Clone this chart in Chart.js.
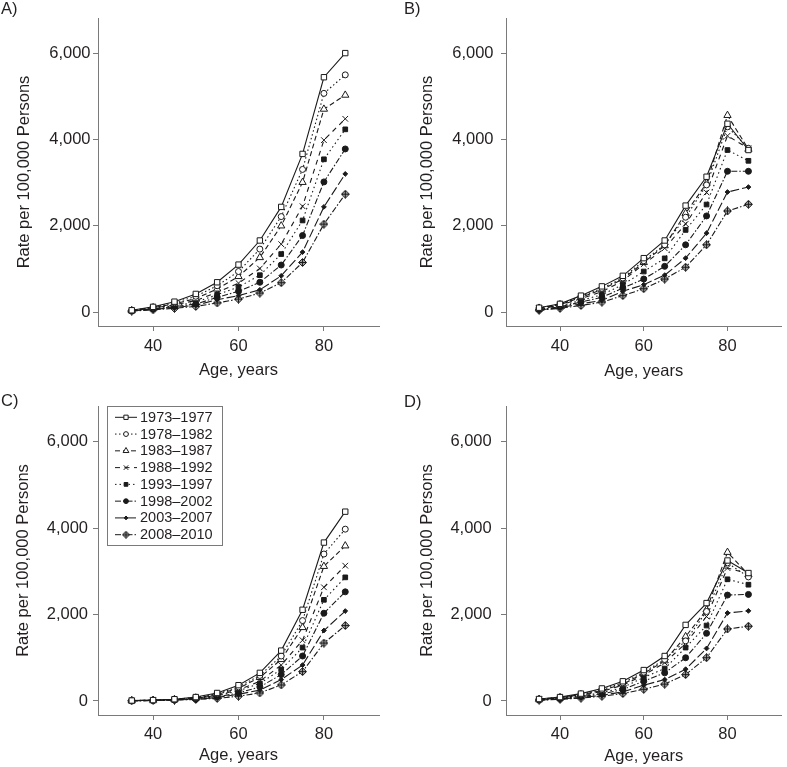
<!DOCTYPE html>
<html><head><meta charset="utf-8">
<script src="https://cdn.jsdelivr.net/npm/chart.js@4/dist/chart.umd.min.js"></script>
<style>
html,body{margin:0;padding:0;background:#fff;}
#wrap{position:relative;width:787px;height:767px;overflow:hidden;background:#fff;}
canvas{position:absolute;}
.lbl{position:absolute;font:16.5px "Liberation Sans",Arial,sans-serif;color:#231f20;line-height:16px;white-space:nowrap;}
</style></head><body>
<div id="wrap">
<canvas id="cA" width="393" height="383" style="left:0;top:0"></canvas>
<canvas id="cB" width="394" height="383" style="left:393px;top:0"></canvas>
<canvas id="cC" width="393" height="384" style="left:0;top:383px"></canvas>
<canvas id="cD" width="394" height="384" style="left:393px;top:383px"></canvas>
<div class="lbl" style="left:1px;top:0px">A)</div>
<div class="lbl" style="left:404px;top:0px">B)</div>
<div class="lbl" style="left:1px;top:392px">C)</div>
<div class="lbl" style="left:404px;top:393px">D)</div>
</div>
<script>
// ---- data ----
const ages = [35, 40, 45, 50, 55, 60, 65, 70, 75, 80, 85];
const periods = ['1973\u20131977','1978\u20131982','1983\u20131987','1988\u20131992','1993\u20131997','1998\u20132002','2003\u20132007','2008\u20132010'];
const xTickValues = [40, 60, 80];
const yTickValues = [0, 2000, 4000, 6000];

// Panel A
const A_1973 = [40, 120, 240, 420, 690, 1100, 1660, 2440, 3670, 5450, 6010];
const A_1978 = [38, 110, 215, 365, 610, 940, 1460, 2215, 3310, 5075, 5505];
const A_1983 = [35, 100, 190, 310, 535, 825, 1265, 2000, 3010, 4710, 5035];
const A_1988 = [32, 90, 165, 265, 455, 670, 1010, 1575, 2455, 3990, 4485];
const A_1993 = [30, 80, 145, 225, 400, 580, 855, 1345, 2125, 3545, 4240];
const A_1998 = [28, 70, 125, 185, 340, 480, 690, 1090, 1775, 3020, 3785];
const A_2003 = [25, 60, 105, 155, 285, 380, 515, 840, 1390, 2440, 3205];
const A_2008 = [22, 50, 85, 130, 210, 300, 440, 680, 1150, 2040, 2735];
// Panel B
const B_1973 = [100, 190, 380, 595, 840, 1250, 1660, 2470, 3140, 4370, 3760];
const B_1978 = [95, 180, 360, 550, 790, 1190, 1560, 2200, 2950, 4300, 3800];
const B_1983 = [90, 170, 340, 520, 765, 1150, 1540, 2290, 2990, 4565, 3780];
const B_1988 = [80, 155, 310, 470, 725, 1110, 1480, 2045, 2775, 4090, 3800];
const B_1993 = [70, 140, 270, 400, 635, 940, 1245, 1905, 2495, 3760, 3510];
const B_1998 = [60, 120, 230, 340, 555, 765, 1060, 1560, 2230, 3266, 3266];
const B_2003 = [50, 100, 190, 270, 480, 635, 855, 1250, 1830, 2785, 2900];
const B_2008 = [40, 85, 150, 230, 380, 540, 765, 1040, 1560, 2345, 2500];
// Panel C
const C_1973 = [10, 20, 40, 90, 185, 365, 650, 1165, 2110, 3665, 4380];
const C_1978 = [9, 18, 38, 80, 165, 325, 590, 1040, 1860, 3400, 3975];
const C_1983 = [8, 17, 35, 70, 150, 295, 545, 960, 1700, 3115, 3590];
const C_1988 = [7, 15, 30, 65, 130, 255, 455, 830, 1405, 2630, 3130];
const C_1993 = [6, 14, 28, 55, 115, 235, 405, 730, 1235, 2340, 2860];
const C_1998 = [5, 12, 25, 50, 95, 185, 325, 610, 1040, 2030, 2525];
const C_2003 = [5, 11, 22, 40, 80, 155, 250, 495, 830, 1630, 2080];
const C_2008 = [4, 10, 20, 35, 60, 110, 185, 370, 680, 1340, 1745];
// Panel D
const D_1973 = [45, 90, 170, 290, 455, 715, 1040, 1760, 2265, 3250, 2960];
const D_1978 = [42, 85, 155, 260, 420, 665, 960, 1390, 2070, 3195, 2870];
const D_1983 = [40, 80, 145, 240, 390, 635, 930, 1490, 2110, 3440, 2925];
const D_1988 = [35, 72, 130, 220, 365, 595, 885, 1330, 1955, 3075, 2945];
const D_1993 = [32, 65, 115, 190, 310, 545, 750, 1235, 1745, 2815, 2690];
const D_1998 = [28, 55, 100, 160, 265, 455, 650, 1000, 1565, 2450, 2465];
const D_2003 = [22, 45, 80, 130, 210, 365, 495, 735, 1215, 2035, 2085];
const D_2008 = [18, 38, 65, 110, 170, 270, 390, 610, 1000, 1665, 1730];

// ---- styles ----
const INK = '#1a1a1a';
const TXT = '#231f20';
const AXIS = '#7a7a7a';
const FONT = '"Liberation Sans", Arial, sans-serif';

function makeDiamondPlus(size) {
  const c = document.createElement('canvas');
  c.width = size; c.height = size;
  const g = c.getContext('2d');
  const m = size / 2;
  g.beginPath();
  g.moveTo(m, 0.5); g.lineTo(size - 0.5, m); g.lineTo(m, size - 0.5); g.lineTo(0.5, m); g.closePath();
  g.fillStyle = '#a0a0a0'; g.fill();
  g.strokeStyle = INK; g.lineWidth = 1; g.stroke();
  g.beginPath();
  g.moveTo(m, 1); g.lineTo(m, size - 1); g.moveTo(1, m); g.lineTo(size - 1, m);
  g.stroke();
  return c;
}
const diamondPlus = makeDiamondPlus(9);
const diamondPlusSmall = makeDiamondPlus(8);

const seriesStyles = [
  {dash: [], point: 'rect', radius: 3.8, fill: '#fff'},
  {dash: [1.5, 2.5], point: 'circle', radius: 3, fill: '#fff'},
  {dash: [5, 3], point: 'triangle', radius: 4.2, fill: '#fff'},
  {dash: [5, 4.5], point: 'crossRot', radius: 4, fill: '#fff'},
  {dash: [1.5, 3], point: 'rect', radius: 3.3, fill: INK},
  {dash: [6, 2, 1.5, 2], point: 'circle', radius: 3, fill: INK},
  {dash: [9, 3], point: 'rectRot', radius: 2.4, fill: INK},
  {dash: [6, 2, 1.5, 2], point: diamondPlus, radius: 4.5, fill: '#a0a0a0'}
];

const legendPlugin = {
  id: 'boxLegend',
  afterDatasetsDraw(chart, args, opts) {
    if (!opts || !opts.show) return;
    const ctx = chart.ctx;
    ctx.save();
    ctx.strokeStyle = AXIS; ctx.lineWidth = 1;
    ctx.strokeRect(opts.x + 0.5, opts.y + 0.5, opts.w, opts.h);
    ctx.font = opts.fontSize + 'px ' + FONT;
    ctx.textBaseline = 'middle';
    ctx.textAlign = 'left';
    periods.forEach((p, i) => {
      const st = seriesStyles[i];
      const cy = opts.y + opts.firstY + i * opts.step;
      ctx.strokeStyle = INK; ctx.lineWidth = 1;
      ctx.setLineDash(st.dash);
      ctx.beginPath(); ctx.moveTo(opts.lineX0, cy); ctx.lineTo(opts.lineX1, cy); ctx.stroke();
      ctx.setLineDash([]);
      ctx.fillStyle = st.fill; ctx.strokeStyle = INK;
      const ps = (st.point === diamondPlus) ? diamondPlusSmall : st.point;
      Chart.helpers.drawPoint(ctx, {pointStyle: ps, radius: st.radius * 0.8, rotation: 0, borderWidth: 1}, (opts.lineX0 + opts.lineX1) / 2, cy);
      ctx.fillStyle = TXT;
      ctx.fillText(p, opts.textX, cy + 0.5);
    });
    ctx.restore();
  }
};

function makePanel(id, dataList, g, legend) {
  const datasets = dataList.map((arr, i) => {
    const st = seriesStyles[i];
    return {
      label: periods[i],
      data: ages.map((a, k) => ({x: a, y: arr[k]})),
      borderColor: INK,
      borderWidth: 1.1,
      borderDash: st.dash,
      tension: 0,
      fill: false,
      pointStyle: st.point,
      pointRadius: st.radius,
      pointBackgroundColor: st.fill,
      pointBorderColor: INK,
      pointBorderWidth: 1
    };
  });
  const tickFont = {family: FONT, size: 16.5};
  return new Chart(document.getElementById(id), {
    type: 'line',
    data: {datasets},
    plugins: [legendPlugin],
    options: {
      responsive: false,
      animation: false,
      devicePixelRatio: 1,
      layout: {padding: {top: g.padTop, right: g.padRight, left: 0, bottom: 0}},
      plugins: {
        legend: {display: false},
        tooltip: {enabled: false},
        boxLegend: legend || {show: false}
      },
      scales: {
        x: {
          type: 'linear', min: 27.1, max: 92.9,
          afterBuildTicks: s => { s.ticks = xTickValues.map(v => ({value: v})); },
          afterFit: s => { s.height = g.xHeight; },
          grid: {drawOnChartArea: false, drawTicks: true, tickLength: 5, color: AXIS},
          border: {display: true, color: AXIS, width: 1},
          ticks: {padding: g.xTickPad, font: tickFont, color: TXT, maxRotation: 0},
          title: {display: true, text: 'Age, years', font: tickFont, color: TXT, padding: {top: 0, bottom: g.xTitlePad}}
        },
        y: {
          type: 'linear', min: -325, max: 6825,
          afterBuildTicks: s => { s.ticks = yTickValues.map(v => ({value: v})); },
          afterFit: s => { s.width = g.yWidth; },
          grid: {drawOnChartArea: false, drawTicks: true, tickLength: 5, color: AXIS},
          border: {display: true, color: AXIS, width: 1},
          ticks: {padding: g.yTickPad, font: tickFont, color: TXT, callback: v => Number(v).toLocaleString('en-US')},
          title: {display: true, text: 'Rate per 100,000 Persons', font: tickFont, color: TXT, padding: {top: g.yTitlePad, bottom: 0}}
        }
      }
    }
  });
}

makePanel('cA', [A_1973, A_1978, A_1983, A_1988, A_1993, A_1998, A_2003, A_2008],
  {yWidth: 98, padTop: 18, padRight: 14, xHeight: 57, yTickPad: 2.5, yTitlePad: 14.4, xTickPad: 5.4, xTitlePad: 2.4});
makePanel('cB', [B_1973, B_1978, B_1983, B_1988, B_1993, B_1998, B_2003, B_2008],
  {yWidth: 113, padTop: 18, padRight: 0, xHeight: 57, yTickPad: 7.5, yTitlePad: 24.4, xTickPad: 5.4, xTitlePad: 2});
makePanel('cC', [C_1973, C_1978, C_1983, C_1988, C_1993, C_1998, C_2003, C_2008],
  {yWidth: 98, padTop: 23, padRight: 14, xHeight: 52, yTickPad: 5, yTitlePad: 13.7, xTickPad: 4.7, xTitlePad: 1.7},
  {show: true, x: 107, y: 23, w: 115, h: 139, firstY: 11.3, step: 16.77, lineX0: 115, lineX1: 137, textX: 140, fontSize: 14.5});
makePanel('cD', [D_1973, D_1978, D_1983, D_1988, D_1993, D_1998, D_2003, D_2008],
  {yWidth: 113, padTop: 23, padRight: 0, xHeight: 52, yTickPad: 9.3, yTitlePad: 24.4, xTickPad: 4.7, xTitlePad: 1});
</script>
</body></html>
